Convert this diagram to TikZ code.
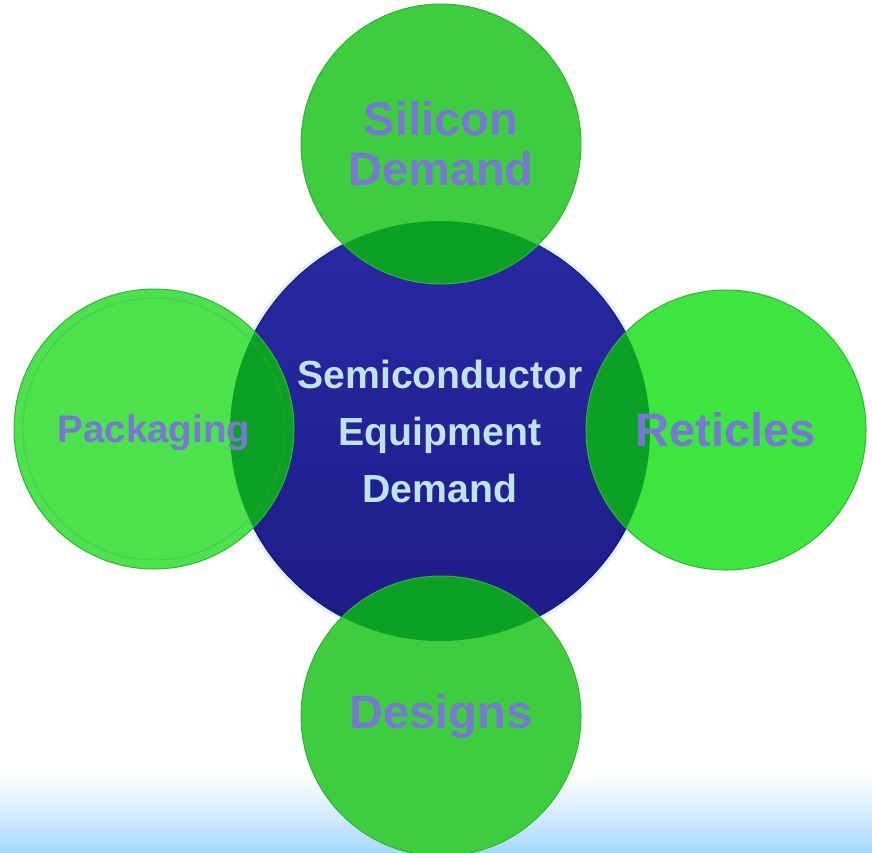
\documentclass[tikz,border=0pt]{standalone}
\usepackage{fontspec}
\setmainfont{Liberation Sans}
\usetikzlibrary{positioning}
\definecolor{coretop}{HTML}{2A29A6}
\definecolor{corebot}{HTML}{1D1C86}
\definecolor{coreedge}{HTML}{1A1975}
\definecolor{coretext}{HTML}{BEE3E8}
\definecolor{glowcyan}{HTML}{DDF3F6}
\definecolor{labelblue}{HTML}{7878D4}
\definecolor{lensgreen}{HTML}{0DA124}
\definecolor{edgegreen}{HTML}{34B236}
\definecolor{greenA}{HTML}{3DCD3F}
\definecolor{greenB}{HTML}{4CE24E}
\definecolor{greenC}{HTML}{3DE63F}
\definecolor{skyfade}{HTML}{A8D8FA}
\tikzset{
  core/.style={circle, inner sep=0pt, minimum size=210pt, top color=coretop, bottom color=corebot,
    draw=coreedge, line width=0.5pt,
    preaction={draw=glowcyan, line width=3.5pt},
    text=coretext, align=center, font=\bfseries\fontsize{19.6}{28.5}\selectfont},
  bubble/.style={circle, inner sep=0pt, minimum size=140pt, fill=#1, draw=edgegreen, line width=0.5pt,
    path picture={\fill[lensgreen] (core.center) circle (105pt);},
    text=labelblue, align=center, font=\bfseries\fontsize{23.5}{25}\selectfont}
}
\begin{document}
\begin{tikzpicture}[x=0.5pt, y=-0.5pt]
    \useasboundingbox (0,0) rectangle (872,852);
    \fill[top color=white, bottom color=skyfade] (0,775) rectangle (872,852);
    \node[core] (core) at (440,431) {Semiconductor\\Equipment\\Demand};
    \node[bubble=greenA] (silicon) at (441,144) {Silicon\\Demand};
    \node[bubble=greenB, font=\bfseries\fontsize{19.2}{22}\selectfont, text depth=-3pt] (packaging) at (154,429) {Packaging};
    \node[bubble=greenC] (reticles) at (726,430) {Reticles};
    \node[bubble=greenA] (designs) at (441,716) {Designs};
    \draw[edgegreen, opacity=0.4, line width=0.4pt] (packaging.center) circle (131);
\end{tikzpicture}
\end{document}
